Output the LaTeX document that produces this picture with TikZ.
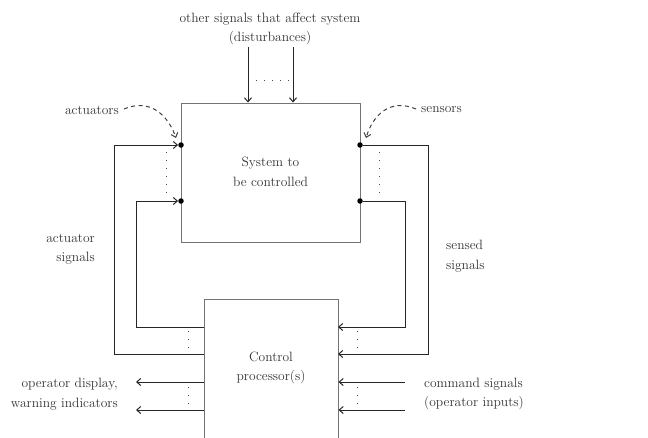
\documentclass[tikz,border=0pt]{standalone}
\usetikzlibrary{arrows.meta}
\begin{document}
\begin{tikzpicture}[x=1pt,y=-1pt,
  >={Straight Barb[length=4pt,width=7pt]},
  box/.style={draw=black!55,line width=1pt,inner sep=0pt},
  conn/.style={draw=black!85,line width=1pt},
  txt/.style={text=black!80,font=\fontsize{13.5}{19.5}\selectfont,inner sep=0pt},
  dotnode/.style={circle,fill=black,inner sep=0pt,minimum size=5.5pt},
  vdots/.style={black!70,line width=1pt,dash pattern=on 0.8pt off 7.2pt},
  curvy/.style={draw=black!75,line width=1pt,dash pattern=on 4pt off 3.5pt}]
\useasboundingbox (0,0) rectangle (648,437);
% boxes
\node[box,minimum width=179pt,minimum height=139pt] (sys) at (270.5,172.5) {};
\node[txt,align=center] (systxt) at (270.5,172) {System to\\be controlled};
\node[box,minimum width=134pt,minimum height=160pt,anchor=north] (ctrl) at (271,299) {};
\node[txt,align=center] (ctrltxt) at (271,368) {Control\\processor(s)};
% top labels
\node[txt,align=center] (dist) at (270,29) {other signals that affect system\\(disturbances)};
\coordinate (d1) at (248,47);
\coordinate (d2) at (293,47);
\draw[conn,->] (d1) -- (d1 |- sys.north);
\draw[conn,->] (d2) -- (d2 |- sys.north);
\draw[vdots] (256,80) -- (290,80);
% actuators / sensors
\node[txt,anchor=east] (act) at (119,110) {actuators};
\node[txt,anchor=west] (sen) at (421,110) {sensors};
\node[dotnode] (a1) at (181,145) {};
\node[dotnode] (a2) at (181,201) {};
\node[dotnode] (s1) at (360,145) {};
\node[dotnode] (s2) at (360,201) {};
\draw[curvy,->] (act.east) ++(5,-1) .. controls (150,98) and (168,115) .. (176,138);
\draw[curvy,->] (sen.west) ++(-5,-1) .. controls (390,98) and (373,115) .. (366,138);
% actuator signal loops
\coordinate (c1) at (204,354);
\coordinate (c2) at (204,327);
\draw[conn,->] (c1) -- (114,354) -- (114,145) -- (a1);
\draw[conn,->] (c2) -- (136,327) -- (136,201) -- (a2);
\draw[vdots] (166,152) -- (166,196);
\draw[vdots] (188,331) -- (188,352);
% sensed signal loops
\coordinate (c3) at (338,354);
\coordinate (c4) at (338,327);
\draw[conn,->] (s1) -- (428,145) -- (428,354) -- (c3);
\draw[conn,->] (s2) -- (405,201) -- (405,327) -- (c4);
\draw[vdots] (379,152) -- (379,196);
\draw[vdots] (357,331) -- (357,352);
% operator outputs
\coordinate (o1) at (136,382);
\coordinate (o2) at (136,410);
\draw[conn,->] (ctrl.west |- o1) -- (o1);
\draw[conn,->] (ctrl.west |- o2) -- (o2);
\draw[vdots] (188,387) -- (188,408);
\coordinate (i1) at (405,382);
\coordinate (i2) at (405,410);
\draw[conn,->] (i1) -- (ctrl.east |- i1);
\draw[conn,->] (i2) -- (ctrl.east |- i2);
\draw[vdots] (357,387) -- (357,408);
% side labels
\node[txt,align=right,anchor=east] (actsig) at (95,249) {actuator\\signals};
\node[txt,align=left,anchor=west] (sensig) at (446,256) {sensed\\signals};
\node[txt,align=right,anchor=east] (opd) at (118,394) {operator display,\\warning indicators};
\node[txt,align=left,anchor=west] (cmd) at (424,394) {command signals\\(operator inputs)};
\end{tikzpicture}
\end{document}
